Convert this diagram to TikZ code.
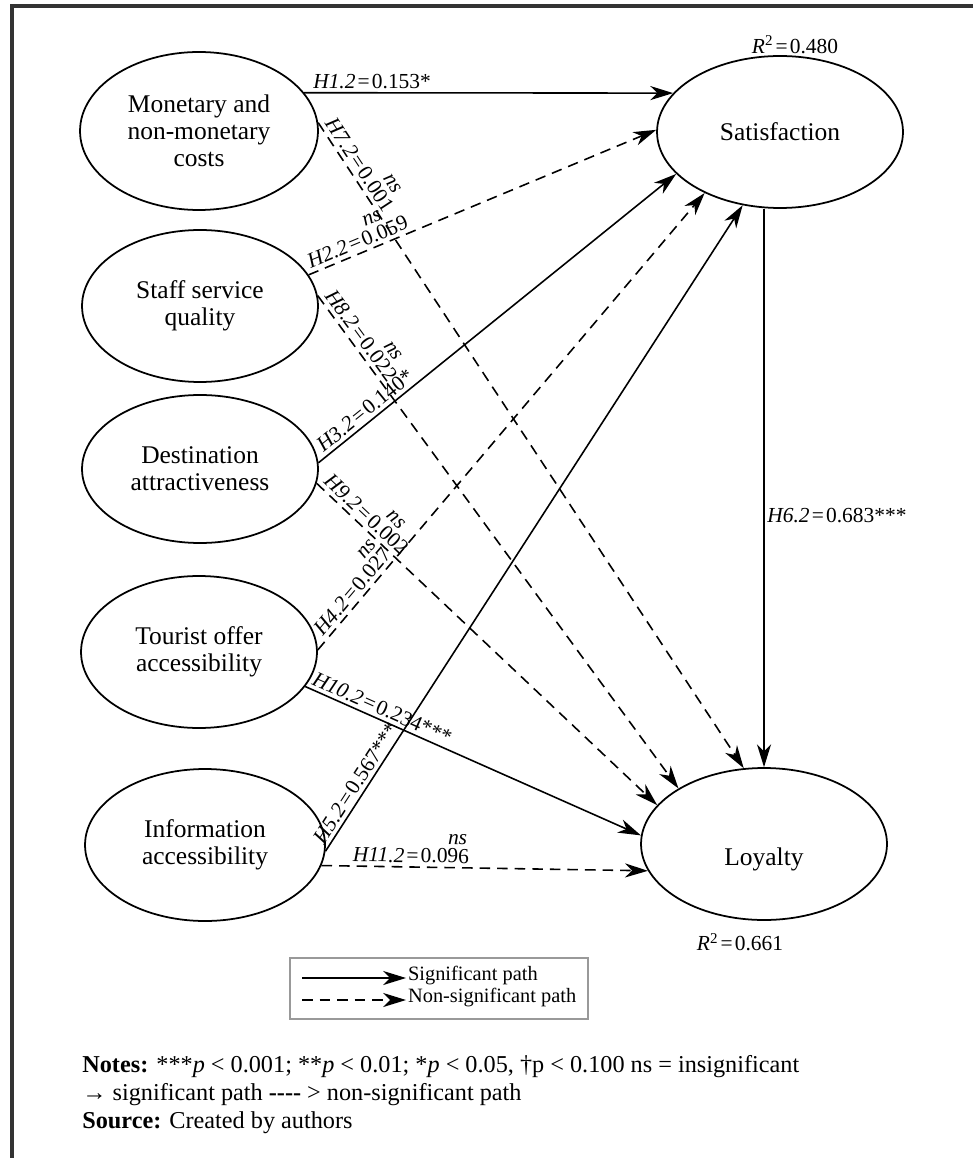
\documentclass[tikz,border=0pt]{standalone}
\usepackage{fontspec}
\setmainfont{Liberation Serif}
\usetikzlibrary{shapes.geometric,arrows.meta}

\newcommand{\hyp}[2]{\textit{#1}\hspace{0.1em}=\hspace{0.1em}#2}
\newcommand{\nsmark}[1][0.25em]{\llap{\raisebox{0.85em}{\itshape ns}\hspace{#1}}}

\begin{document}
\begin{tikzpicture}[x=0.02cm, y=-0.02cm,
  construct/.style={ellipse, draw, line width=1pt, minimum width=4.72cm, minimum height=3.04cm, inner sep=0pt, align=center, font=\fontsize{14.5}{15.5}\selectfont},
  sigpath/.style={line width=0.9pt, -{Stealth[length=13pt, width=8pt, inset=4pt]}},
  nspath/.style={sigpath, dash pattern=on 6pt off 4pt},
  coef/.style={font=\fontsize{12.2}{14}\selectfont, inner sep=1.5pt},
  pathlabel/.style={coef, sloped, anchor=south west, inner sep=2pt},
  legtext/.style={font=\fontsize{11.6}{13}\selectfont, inner sep=1pt, anchor=west},
]
\useasboundingbox (0,0) rectangle (973,1158);
\draw[line width=2pt, color=black!80] (12,1158) -- (12,6) -- (973,6);

\node[construct, minimum width=4.76cm, minimum height=3.16cm] (cost) at (199,131) {Monetary and\\non-monetary\\costs};
\node[construct] (staff) at (200,306) {Staff service\\quality};
\node[construct, minimum height=2.96cm] (dest) at (200,469) {Destination\\attractiveness};
\node[construct] (tour) at (199,652) {Tourist offer\\accessibility};
\node[construct, minimum width=4.8cm] (info) at (205,845) {Information\\accessibility};
\node[construct, minimum width=4.92cm] (sat) at (780,132) {Satisfaction};
\node[construct, minimum width=4.92cm, text height=25pt, text depth=0pt] (loy) at (764,844) {Loyalty};

\node[coef] (r2sat) at (795,45) {\textit{R}\textsuperscript{2}\hspace{0.1em}=\hspace{0.1em}0.480};
\node[coef] (r2loy) at (740,942) {\textit{R}\textsuperscript{2}\hspace{0.1em}=\hspace{0.1em}0.661};

\draw[sigpath] (cost.20) -- node[pathlabel, pos=0.013] {\hyp{H1.2}{0.153*}} (sat.160);
\draw[nspath] (cost.4) -- node[pathlabel, pos=0] {\hyp{H7.2}{0.001}\nsmark[0.45em]} (loy.105);
\draw[nspath] (staff.16) -- node[pathlabel, pos=0] {\hyp{H2.2}{0.059}\nsmark[1em]} (sat.179);
\draw[nspath] (staff.5) -- node[pathlabel, pos=0] {\hyp{H8.2}{0.022}\nsmark[0.6em]} (loy.147);
\draw[sigpath] (dest.3) -- node[pathlabel, pos=0.013] {\hyp{H3.2}{0.140*}} (sat.202);
\draw[nspath] (dest.353) -- node[pathlabel, pos=0] {\hyp{H9.2}{0.002}\nsmark[0.9em]} (loy.160);
\draw[nspath] (tour.1) -- node[pathlabel, pos=0.015] {\hyp{H4.2}{0.027}\nsmark[0.1em]} (sat.219);
\draw[sigpath] (tour.342) -- node[pathlabel, pos=0] {\hyp{H10.2}{0.234***}} (loy.176);
\draw[sigpath] (info.357) -- node[pathlabel, pos=0] {\hyp{H5.2}{0.567***}} (sat.243);
\draw[nspath] (info.350) -- node[pathlabel, pos=0.083] {\hyp{H11.2}{0.096}\nsmark[0.1em]} (loy.193);
\draw[sigpath] (loy.north |- sat.south) -- node[coef, right, pos=0.55] {\hyp{H6.2}{0.683***}} (loy.north);

\draw[draw=black!40, line width=0.6pt] (290,958) rectangle (588,1019);
\node[legtext] (sigtxt) at (406,976) {Significant path};
\node[legtext] (nstxt) at (406,998) {Non-significant path};
\coordinate (sigstart) at (302,978);
\coordinate (nsstart) at (302,1000);
\draw[sigpath] (sigstart) -- (sigstart -| sigtxt.west);
\draw[nspath] (nsstart) -- (nsstart -| nstxt.west);

\node[align=left, anchor=north west, inner sep=0pt, font=\fontsize{13.8}{16}\selectfont] (notes) at (82,1055) {\textbf{Notes:} ***\textit{p} < 0.001; **\textit{p} < 0.01; *\textit{p} < 0.05, †p < 0.100 ns = insignificant\\
→ significant path \textbf{{-}{-}{-}{-}} > non-significant path\\
\textbf{Source:} Created by authors};
\end{tikzpicture}
\end{document}
